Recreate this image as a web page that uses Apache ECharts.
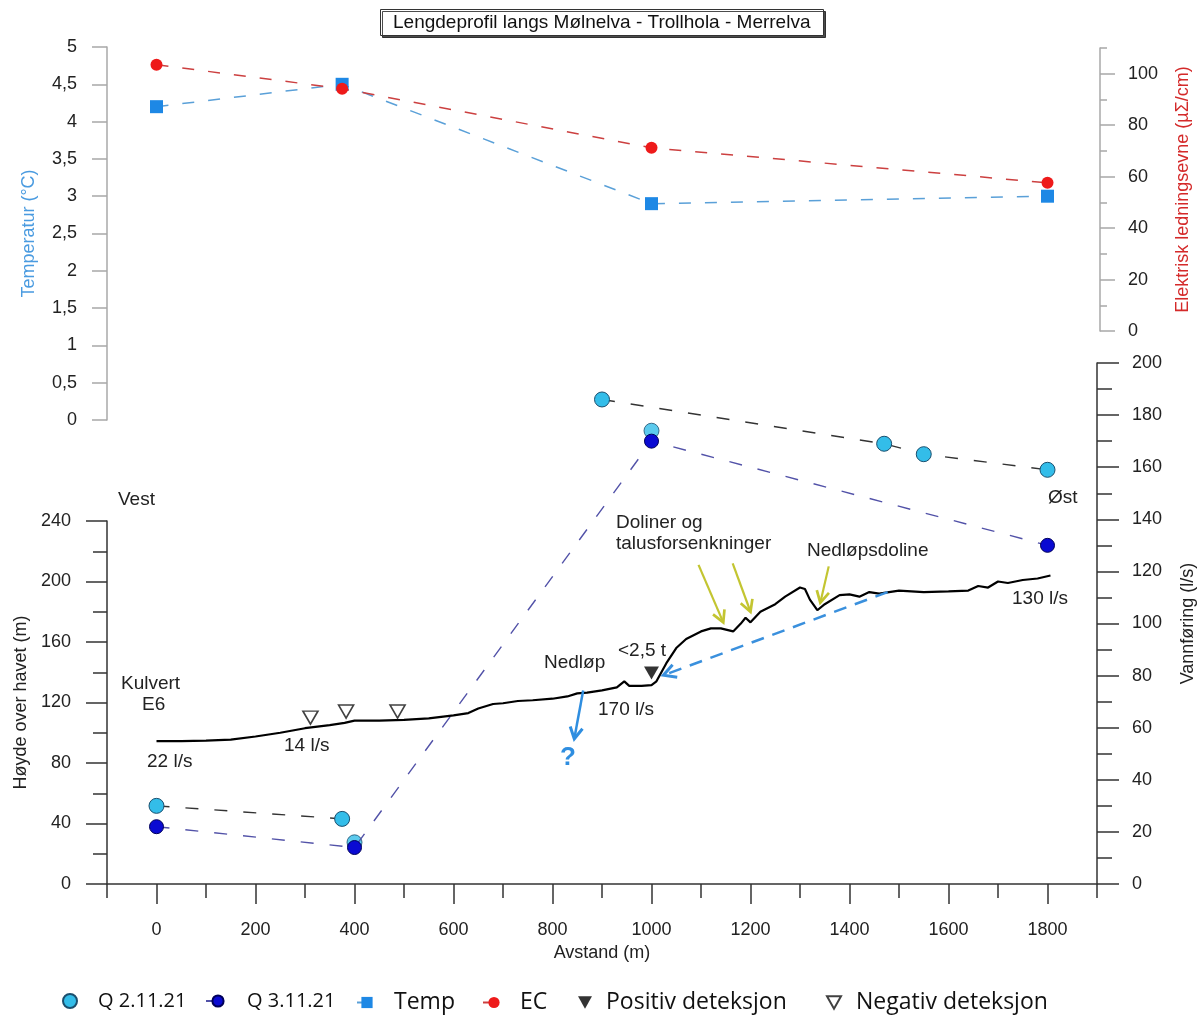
<!DOCTYPE html>
<html><head><meta charset="utf-8">
<script src="https://cdn.jsdelivr.net/npm/echarts@6/dist/echarts.min.js"></script>
<style>html,body{margin:0;padding:0;background:#fff}#c{width:1197px;height:1016px}</style>
</head><body><div id="c"></div>
<script>
// ---------- data ----------
const xLabelValues = [0, 200, 400, 600, 800, 1000, 1200, 1400, 1600, 1800];
const xMinorTicks = [-100, 100, 300, 500, 700, 900, 1100, 1300, 1500, 1700, 1900];
const ecLabelValues = [0, 20, 40, 60, 80, 100];
const ecMinorTicks = [10, 30, 50, 70, 90, 110];

const tempData = [[0, 4.2], [375, 4.5], [1000, 2.9], [1800, 3.0]];
const ecData = [[0, 103.5], [375, 94.2], [1000, 71.2], [1800, 57.6]];

const q2West = [[0, 30], [375, 25]];
const q2East = [[900, 186], [1470, 169], [1550, 165], [1800, 159]];
const q2Single = [[400, 16], [1000, 174]];
const q3Data = [[0, 22], [400, 14], [1000, 170], [1800, 130]];

const profile = [
  [0, 94.5], [50, 94.5], [100, 94.8], [150, 95.5], [200, 97.5], [250, 100], [300, 103],
  [350, 105], [380, 106.5], [400, 108], [450, 108], [500, 108.5], [550, 109.5], [600, 111.5],
  [630, 113], [650, 116], [680, 119], [700, 119.5], [730, 121], [760, 121.5], [800, 122.5],
  [830, 124], [850, 126], [870, 126.5], [900, 128], [930, 130], [945, 134], [955, 131],
  [980, 131], [1000, 131.5], [1010, 134], [1030, 146], [1050, 156], [1070, 162], [1100, 167],
  [1120, 169], [1140, 169], [1165, 167], [1180, 172], [1190, 176], [1200, 173], [1220, 180],
  [1250, 185], [1270, 190], [1300, 196], [1310, 195], [1320, 188], [1335, 181], [1350, 185],
  [1380, 191], [1400, 191.5], [1420, 190], [1440, 193], [1460, 192], [1480, 193], [1500, 194],
  [1550, 193], [1600, 193.5], [1640, 194], [1660, 197], [1680, 196], [1700, 200], [1720, 199],
  [1750, 201], [1780, 202], [1806, 204]
];
const negDetect = [[311, 110], [383, 114], [487, 114]];
const posDetect = [[1000, 139.5]];

// annotation arrows [x1, h1, x2, h2] in distance / height units
const yellowArrows = [[1095, 211, 1145, 173], [1164, 212, 1200, 180], [1358, 210, 1341, 186]];
const blueArrow = [[862, 128, 844, 96]];
const blueDashedArrow = [[1477, 193, 1024, 138]];

// ---------- helpers ----------
const FONT = 'Arial, "Liberation Sans", sans-serif';
const comma = v => String(v).replace('.', ',');
const plain = v => String(v);
const downTri = 'path://M0,0 L10,0 L5,9 Z';

function arrowRender(color, width, head, dash) {
  return function (params, api) {
    const p1 = api.coord([api.value(0), api.value(1)]);
    const p2 = api.coord([api.value(2), api.value(3)]);
    const a = Math.atan2(p2[1] - p1[1], p2[0] - p1[0]);
    const h1 = [p2[0] - head * Math.cos(a - 0.5), p2[1] - head * Math.sin(a - 0.5)];
    const h2 = [p2[0] - head * Math.cos(a + 0.5), p2[1] - head * Math.sin(a + 0.5)];
    return {
      type: 'group', children: [
        { type: 'line', shape: { x1: p1[0], y1: p1[1], x2: p2[0], y2: p2[1] },
          style: { stroke: color, lineWidth: width, lineDash: dash || null } },
        { type: 'polyline', shape: { points: [h1, p2, h2] },
          style: { stroke: color, lineWidth: width + 0.5, fill: null } }
      ]
    };
  };
}
function arrowSeries(data, color, width, head, dash) {
  return {
    type: 'custom', xAxisIndex: 2, yAxisIndex: 3, z: 6, silent: true,
    dimensions: ['x1', 'y1', 'x2', 'y2'], encode: { x: [0, 2], y: [1, 3] },
    renderItem: arrowRender(color, width, head, dash), data: data
  };
}
function leg(name, left, fontSize, pad, w, icon) {
  return {
    data: [icon ? { name: name, icon: icon } : name], left: left, top: 991,
    itemWidth: w, itemHeight: 14, selectedMode: false, padding: 0,
    textStyle: { fontFamily: '"Open Sans", sans-serif', fontSize: fontSize, color: '#111', padding: [0, 0, 0, pad] }
  };
}
function txt(text, left, y, opts) {
  return Object.assign({
    type: 'text', left: left, top: y - 11, z: 10,
    style: { text: text, font: '19px ' + FONT, fill: '#222' }
  }, opts || {});
}

const hiddenX = g => ({ type: 'value', gridIndex: g, min: -100, max: 1900, show: false,
  axisLine: { onZero: false } });
const gridBox = (top, height) => ({ left: 107, width: 990, top: top, height: height,
  containLabel: false, outerBoundsMode: 'none' });

const option = {
  animation: false,
  backgroundColor: '#fff',
  title: {
    text: 'Lengdeprofil langs Mølnelva - Trollhola - Merrelva',
    left: 380, top: 9, padding: [4, 13],
    borderColor: '#333', borderWidth: 1, backgroundColor: '#fff',
    shadowColor: 'rgba(0,0,0,0.7)', shadowOffsetX: 2, shadowOffsetY: 2, shadowBlur: 0,
    textStyle: { fontFamily: FONT, fontSize: 19, fontWeight: 'normal', color: '#111' }
  },
  grid: [
    gridBox(47, 373),
    gridBox(48, 283),
    gridBox(521, 363),
    gridBox(363, 521)
  ],
  xAxis: [
    hiddenX(0),
    hiddenX(1),
    {
      type: 'value', gridIndex: 2, min: -100, max: 1900, position: 'bottom',
      name: 'Avstand (m)', nameLocation: 'middle', nameGap: 60,
      nameTextStyle: { fontFamily: FONT, fontSize: 18, color: '#222' },
      axisLine: { show: true, onZero: false, lineStyle: { color: '#333', width: 1.5 } },
      axisTick: { show: true, customValues: xLabelValues, length: 20, lineStyle: { color: '#333', width: 1.5 } },
      axisLabel: { customValues: xLabelValues, margin: 37, fontFamily: FONT, fontSize: 18, color: '#222', formatter: plain },
      splitLine: { show: false }
    },
    {
      type: 'value', gridIndex: 2, min: -100, max: 1900, position: 'bottom',
      axisLine: { show: false, onZero: false },
      axisTick: { show: true, customValues: xMinorTicks, length: 14, lineStyle: { color: '#333', width: 1.5 } },
      axisLabel: { show: false }, splitLine: { show: false }
    },
    hiddenX(3)
  ],
  yAxis: [
    {
      type: 'value', gridIndex: 0, min: 0, max: 5, interval: 0.5, position: 'left',
      name: 'Temperatur (°C)', nameLocation: 'middle', nameGap: 69,
      nameTextStyle: { fontFamily: FONT, fontSize: 18, color: '#4a9be0' },
      axisLine: { show: true, onZero: false, lineStyle: { color: '#a8a8a8', width: 1.5 } },
      axisTick: { show: true, length: 15, lineStyle: { color: '#a8a8a8', width: 1.5 } },
      axisLabel: { margin: 30, fontFamily: FONT, fontSize: 18, color: '#222', formatter: comma },
      splitLine: { show: false }
    },
    {
      type: 'value', gridIndex: 1, min: 0, max: 110, position: 'right', offset: 3,
      name: 'Elektrisk ledningsevne (µΣ/cm)', nameLocation: 'middle', nameGap: 74,
      nameTextStyle: { fontFamily: FONT, fontSize: 18, color: '#d42a2a' },
      axisLine: { show: true, onZero: false, lineStyle: { color: '#a8a8a8', width: 1.5 } },
      axisTick: { show: true, customValues: ecLabelValues, length: 15, lineStyle: { color: '#a8a8a8', width: 1.5 } },
      axisLabel: { customValues: ecLabelValues, margin: 28, fontFamily: FONT, fontSize: 18, color: '#222', formatter: plain },
      splitLine: { show: false }
    },
    {
      type: 'value', gridIndex: 1, min: 0, max: 110, position: 'right', offset: 3,
      axisLine: { show: false, onZero: false },
      axisTick: { show: true, customValues: ecMinorTicks, length: 7, lineStyle: { color: '#a8a8a8', width: 1.5 } },
      axisLabel: { show: false }, splitLine: { show: false }
    },
    {
      type: 'value', gridIndex: 2, min: 0, max: 240, interval: 40, position: 'left',
      name: 'Høyde over havet (m)', nameLocation: 'middle', nameGap: 77,
      nameTextStyle: { fontFamily: FONT, fontSize: 18, color: '#222' },
      axisLine: { show: true, onZero: false, lineStyle: { color: '#333', width: 1.5 } },
      axisTick: { show: true, length: 21, lineStyle: { color: '#333', width: 1.5 } },
      minorTick: { show: true, splitNumber: 2, length: 14, lineStyle: { color: '#333', width: 1.5 } },
      axisLabel: { margin: 36, fontFamily: FONT, fontSize: 18, color: '#222', formatter: plain },
      splitLine: { show: false }, minorSplitLine: { show: false }
    },
    {
      type: 'value', gridIndex: 3, min: 0, max: 200, interval: 20, position: 'right',
      name: 'Vannføring (l/s)', nameLocation: 'middle', nameGap: 82,
      nameTextStyle: { fontFamily: FONT, fontSize: 18, color: '#222' },
      axisLine: { show: true, onZero: false, lineStyle: { color: '#333', width: 1.5 } },
      axisTick: { show: true, length: 22, lineStyle: { color: '#333', width: 1.5 } },
      minorTick: { show: true, splitNumber: 2, length: 15, lineStyle: { color: '#333', width: 1.5 } },
      axisLabel: { margin: 35, fontFamily: FONT, fontSize: 18, color: '#222', formatter: plain },
      splitLine: { show: false }, minorSplitLine: { show: false }
    }
  ],
  legend: [
    leg('Q 2.11.21', 62, 20, 16, 14, 'circle'),
    leg('Q 3.11.21', 205, 20, 12, 24),
    leg('Temp', 356, 23, 12, 20),
    leg('EC', 482, 23, 10, 22),
    leg('Positiv deteksjon', 578, 23, 9, 14),
    leg('Negativ deteksjon', 826, 23, 10, 14)
  ],
  series: [
    {
      name: 'Temp', type: 'line', xAxisIndex: 0, yAxisIndex: 0, data: tempData,
      symbol: 'rect', symbolSize: 13, z: 3,
      itemStyle: { color: '#1e88e5' },
      lineStyle: { color: '#5aa0d8', width: 1.5, type: [12, 14] }
    },
    {
      name: 'EC', type: 'line', xAxisIndex: 1, yAxisIndex: 1, data: ecData,
      symbol: 'circle', symbolSize: 12, z: 4,
      itemStyle: { color: '#ee1a1a' },
      lineStyle: { color: '#cc4040', width: 1.5, type: [12, 14] }
    },
    {
      name: 'Profil', type: 'line', xAxisIndex: 2, yAxisIndex: 3, data: profile,
      symbol: 'none', z: 5, lineStyle: { color: '#000', width: 2.2 }
    },
    {
      name: 'Q 3.11.21', type: 'line', xAxisIndex: 4, yAxisIndex: 4, data: q3Data,
      symbol: 'circle', symbolSize: 14, z: 3,
      itemStyle: { color: '#0a0ad2', borderColor: '#00005a', borderWidth: 1 },
      lineStyle: { color: '#5252a8', width: 1.4, type: [13, 16] }
    },
    {
      name: 'Q 2.11.21', type: 'line', xAxisIndex: 4, yAxisIndex: 4, data: q2West,
      symbol: 'circle', symbolSize: 15, z: 3,
      itemStyle: { color: '#33bde9', borderColor: '#1b4f6e', borderWidth: 1 },
      lineStyle: { color: '#333', width: 1.4, type: [13, 16] }
    },
    {
      name: 'Q 2.11.21', type: 'line', xAxisIndex: 4, yAxisIndex: 4, data: q2East,
      symbol: 'circle', symbolSize: 15, z: 3,
      itemStyle: { color: '#33bde9', borderColor: '#1b4f6e', borderWidth: 1 },
      lineStyle: { color: '#333', width: 1.4, type: [13, 16] }
    },
    {
      name: 'Q 2.11.21', type: 'scatter', xAxisIndex: 4, yAxisIndex: 4, data: q2Single,
      symbol: 'circle', symbolSize: 15, z: 2,
      itemStyle: { color: '#33bde9', borderColor: '#1b4f6e', borderWidth: 1 }
    },
    {
      name: 'Negativ deteksjon', type: 'scatter', xAxisIndex: 2, yAxisIndex: 3, data: negDetect,
      symbol: downTri, symbolSize: [15, 13], z: 6,
      itemStyle: { color: '#fff', borderColor: '#111', borderWidth: 1.6 }
    },
    {
      name: 'Positiv deteksjon', type: 'scatter', xAxisIndex: 2, yAxisIndex: 3, data: posDetect,
      symbol: downTri, symbolSize: [15, 13], z: 6,
      itemStyle: { color: '#000' }
    },
    arrowSeries(yellowArrows, '#c3c531', 2.2, 13),
    arrowSeries(blueArrow, '#2f8ee0', 2.5, 13),
    arrowSeries(blueDashedArrow, '#3a90dd', 2.5, 14, [13, 9])
  ],
  graphic: [
    txt('Vest', 118, 501),
    txt('Øst', 1048, 499),
    txt('Kulvert', 121, 685),
    txt('E6', 142, 706),
    txt('22 l/s', 147, 763),
    txt('14 l/s', 284, 747),
    txt('Nedløp', 544, 664),
    txt('<2,5 t', 618, 652),
    txt('170 l/s', 598, 711),
    txt('Doliner og', 616, 524),
    txt('talusforsenkninger', 616, 545),
    txt('Nedløpsdoline', 807, 552),
    txt('130 l/s', 1012, 600),
    { type: 'text', left: 560, top: 745, z: 10,
      style: { text: '?', font: 'bold 26px ' + FONT, fill: '#2f8ee0' } }
  ]
};

const chart = echarts.init(document.getElementById('c'), null, { renderer: 'canvas' });
chart.setOption(option);
</script>
</body></html>
